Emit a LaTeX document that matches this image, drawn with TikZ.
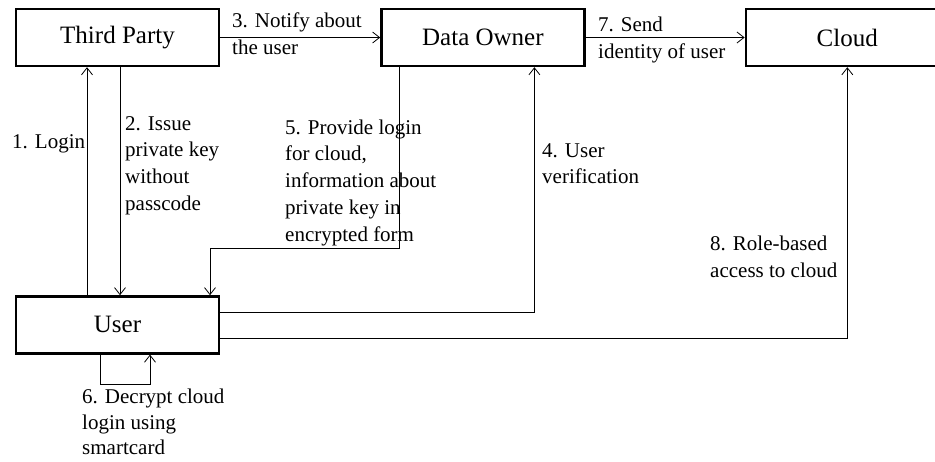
\documentclass[tikz,border=0pt]{standalone}
\usepackage{fontspec}
\setmainfont{Liberation Serif}
\usetikzlibrary{positioning,arrows.meta}

\begin{document}
\begin{tikzpicture}[x=1pt,y=1pt]
    \tikzset{entity/.style={rectangle, draw, line width=2.4pt,
                            minimum width=203pt, minimum height=57pt,
                            font=\fontsize{25}{30}\selectfont},
             msg/.style={align=left, inner sep=0pt, anchor=north west,
                         font=\fontsize{21}{26.7}\selectfont},
             flow/.style={line width=0.8pt,
                          -{Straight Barb[length=7pt,width=11pt]}}}
    \useasboundingbox (0,0) rectangle (935,-461);

    \node[entity] (tp) at (117.5,-37.5)    {Third Party};
    \node[entity] (do) [right = 160pt of tp] {Data Owner};
    \node[entity] (cl) [right = 159pt of do] {Cloud};
    \node[entity] (us) [below = 228pt of tp] {User};

    % messages
    \node[msg] (m1) at (12,-134)    {1. Login};
    \node[msg] (m2) at (125,-116)   {2. Issue\\private key\\without\\passcode};
    \node[msg] (m3) at (232,-13)    {3. Notify about\\the user};
    \node[msg] (m4) at (542,-143)   {4. User\\verification};
    \node[msg] (m5) at (285,-119.5) {5. Provide login\\for cloud,\\information about\\private key in\\encrypted form};
    \node[msg, font=\fontsize{21}{25.5}\selectfont] (m6) at (82,-389) {6. Decrypt cloud\\login using\\smartcard};
    \node[msg] (m7) at (598,-17)    {7. Send\\identity of user};
    \node[msg] (m8) at (710,-236)   {8. Role-based\\access to cloud};

    \draw[flow] ([xshift=-30.5pt]us.north) -- ([xshift=-30.5pt]tp.south);
    \draw[flow] ([xshift=2.5pt]tp.south) -- ([xshift=2.5pt]us.north);
    \draw[flow] (tp) -- (do);
    \draw[flow] ([yshift=12.5pt]us.east) -| ([xshift=51.5pt]do.south);
    \draw[flow] ([xshift=-83.5pt]do.south) -- ++(0,-181) -| ([xshift=92.5pt]us.north);
    \draw[flow] ([xshift=-17.5pt]us.south) -- ++(0,-30) -| ([xshift=32.5pt]us.south);
    \draw[flow] (do) -- (cl);
    \draw[flow] ([yshift=-13.5pt]us.east) -| (cl.south);
\end{tikzpicture}
\end{document}
